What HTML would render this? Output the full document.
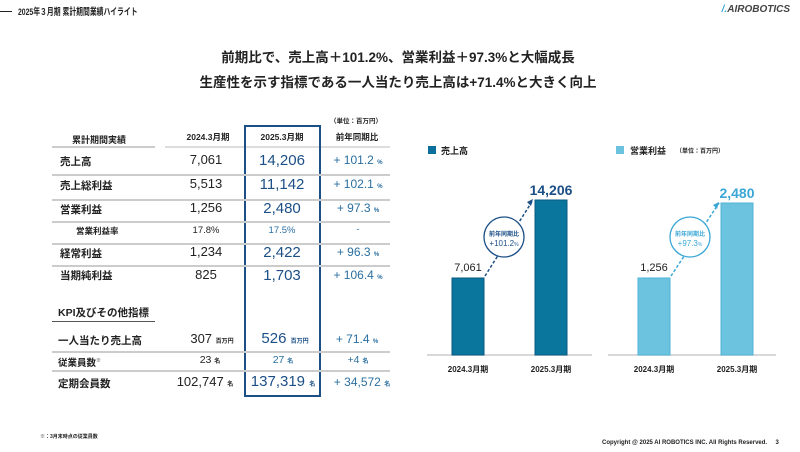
<!DOCTYPE html>
<html><head><meta charset="utf-8"><style>
*{margin:0;padding:0;box-sizing:border-box}
body{width:800px;height:452px;background:#fff;position:relative;overflow:hidden;font-family:"Liberation Sans","Noto Sans CJK JP",sans-serif;color:#222}
.a{position:absolute;white-space:nowrap}
.c{transform:translateX(-50%)}
.b{font-weight:bold}
.blue{color:#1b4f86}
.lb{color:#2a6fa0}
.hl{position:absolute;height:2px;background:#ccc}
.u{font-size:6px;font-weight:bold}
</style></head><body>
<div class="a" style="left:0;top:11px;width:12px;height:1px;background:#222"></div>
<div class="a b" style="left:18px;top:4px;font-size:9.5px;transform:scaleX(0.72);transform-origin:left top">2025年３月期 累計期間業績ハイライト</div>
<div class="a b" style="right:10px;top:4px;font-size:10px;font-style:italic;color:#444"><span style="color:#3ba7d6">/.</span>AIROBOTICS</div>
<div class="a c b" style="left:398px;top:46px;font-size:13.5px">前期比で、売上高＋101.2%、営業利益＋97.3%と大幅成長</div>
<div class="a c b" style="left:398px;top:71px;font-size:13.5px">生産性を示す指標である一人当たり売上高は+71.4%と大きく向上</div>

<!-- table -->
<div class="a b" style="left:330px;top:115px;font-size:6.5px">（単位：百万円）</div>
<div class="a b" style="left:72px;top:133px;font-size:9px">累計期間実績</div>
<div class="a c b" style="left:208px;top:131px;font-size:8.5px">2024.3月期</div>
<div class="a c b" style="left:282px;top:131px;font-size:8.5px">2025.3月期</div>
<div class="a c b" style="left:357px;top:131px;font-size:8.5px">前年同期比</div>
<div class="hl" style="left:52px;top:146px;width:103px"></div>
<div class="hl" style="left:165px;top:146px;width:225px;background:#ddd"></div>
<div class="a" style="left:244px;top:125px;width:77px;height:272px;border:2px solid #1b4f86"></div>

<div class="a b" style="left:60px;top:154px;font-size:10.5px">売上高</div>
<div class="a c" style="left:206px;top:152px;font-size:13px">7,061</div>
<div class="a c blue" style="left:282px;top:152px;font-size:15px">14,206</div>
<div class="a c lb" style="left:358px;top:153px;font-size:12px">+ 101.2 <span class="u">%</span></div>
<div class="hl" style="left:52px;top:174px;width:338px"></div>

<div class="a b" style="left:60px;top:178px;font-size:10.5px">売上総利益</div>
<div class="a c" style="left:206px;top:176px;font-size:13px">5,513</div>
<div class="a c blue" style="left:282px;top:176px;font-size:15px">11,142</div>
<div class="a c lb" style="left:358px;top:177px;font-size:12px">+ 102.1 <span class="u">%</span></div>
<div class="hl" style="left:52px;top:199px;width:338px"></div>

<div class="a b" style="left:60px;top:202px;font-size:10.5px">営業利益</div>
<div class="a c" style="left:206px;top:200px;font-size:13px">1,256</div>
<div class="a c blue" style="left:282px;top:200px;font-size:15px">2,480</div>
<div class="a c lb" style="left:358px;top:201px;font-size:12px">+ 97.3 <span class="u">%</span></div>
<div class="hl" style="left:52px;top:221px;width:338px"></div>

<div class="a b" style="left:76px;top:225px;font-size:8.5px">営業利益率</div>
<div class="a c" style="left:206px;top:225px;font-size:9.5px">17.8%</div>
<div class="a c lb" style="left:282px;top:225px;font-size:9.5px">17.5%</div>
<div class="a c lb" style="left:358px;top:224px;font-size:9.5px">-</div>
<div class="hl" style="left:52px;top:243px;width:338px"></div>

<div class="a b" style="left:60px;top:246px;font-size:10.5px">経常利益</div>
<div class="a c" style="left:206px;top:244px;font-size:13px">1,234</div>
<div class="a c blue" style="left:282px;top:244px;font-size:15px">2,422</div>
<div class="a c lb" style="left:358px;top:245px;font-size:12px">+ 96.3 <span class="u">%</span></div>
<div class="hl" style="left:52px;top:265px;width:338px"></div>

<div class="a b" style="left:60px;top:268px;font-size:10.5px">当期純利益</div>
<div class="a c" style="left:206px;top:267px;font-size:13px">825</div>
<div class="a c blue" style="left:282px;top:267px;font-size:15px">1,703</div>
<div class="a c lb" style="left:358px;top:268px;font-size:12px">+ 106.4 <span class="u">%</span></div>

<div class="a b" style="left:58px;top:305px;font-size:10.5px">KPI及びその他指標</div>
<div class="hl" style="left:52px;top:321px;width:103px;height:1px;background:#555"></div>

<div class="a b" style="left:58px;top:333px;font-size:10.5px">一人当たり売上高</div>
<div class="a c" style="left:212px;top:331px;font-size:13px">307 <span class="u">百万円</span></div>
<div class="a c blue" style="left:285px;top:330px;font-size:15px">526 <span class="u">百万円</span></div>
<div class="a c lb" style="left:357px;top:332px;font-size:12px">+ 71.4 <span class="u">%</span></div>
<div class="hl" style="left:52px;top:351px;width:338px"></div>

<div class="a b" style="left:58px;top:355px;font-size:9.5px">従業員数<sup style="font-size:5px">※</sup></div>
<div class="a c" style="left:210px;top:354px;font-size:10.5px">23 <span class="u">名</span></div>
<div class="a c lb" style="left:283px;top:354px;font-size:10.5px">27 <span class="u">名</span></div>
<div class="a c lb" style="left:358px;top:354px;font-size:10.5px">+4 <span class="u">名</span></div>
<div class="hl" style="left:52px;top:370px;width:338px"></div>

<div class="a b" style="left:58px;top:376px;font-size:10.5px">定期会員数</div>
<div class="a c" style="left:205px;top:374px;font-size:13px">102,747 <span class="u">名</span></div>
<div class="a c blue" style="left:283px;top:373px;font-size:15px">137,319 <span class="u">名</span></div>
<div class="a c lb" style="left:362px;top:375px;font-size:12px">+ 34,572 <span class="u">名</span></div>

<div class="a b" style="left:40px;top:433px;font-size:5px">※：3月末時点の従業員数</div>
<div class="a b" style="left:602px;top:440px;font-size:6px">Copyright @ 2025 AI ROBOTICS INC. All Rights Reserved.&nbsp;&nbsp;&nbsp;&nbsp;&nbsp;3</div>

<!-- charts -->
<svg class="a" style="left:0;top:0" width="800" height="452">
<rect x="428" y="146" width="8" height="8" fill="#0a6f9a"/>
<text x="441" y="154" font-size="9" font-weight="bold" fill="#222">売上高</text>
<rect x="616" y="146" width="8" height="8" fill="#6cc3df"/>
<text x="630" y="154" font-size="9" font-weight="bold" fill="#222">営業利益</text>
<text x="676" y="153" font-size="6" font-weight="bold" fill="#222">（単位：百万円）</text>
<line x1="427" y1="355" x2="592" y2="355" stroke="#ccc" stroke-width="1.5"/>
<line x1="608" y1="355" x2="776" y2="355" stroke="#ccc" stroke-width="1.5"/>
<rect x="452" y="278" width="32" height="77" fill="#0a769e" stroke="#0a5a80"/>
<rect x="535" y="200" width="32" height="155" fill="#0a769e" stroke="#0a5a80"/>
<rect x="638" y="278" width="32" height="77" fill="#6cc3df" stroke="#4fb3d6"/>
<rect x="721" y="203" width="32" height="152" fill="#6cc3df" stroke="#4fb3d6"/>
<text x="468" y="271" font-size="11" text-anchor="middle" fill="#222">7,061</text>
<text x="551" y="195" font-size="14" font-weight="bold" text-anchor="middle" fill="#1b4f86">14,206</text>
<text x="654" y="271" font-size="11" text-anchor="middle" fill="#222">1,256</text>
<text x="737" y="198" font-size="14" font-weight="bold" text-anchor="middle" fill="#3ba7d6">2,480</text>
<line x1="485" y1="276" x2="533" y2="200" stroke="#1b4f86" stroke-width="1.5" stroke-dasharray="3,2"/>
<polygon points="533,199 527,202 531,206" fill="#1b4f86"/>
<circle cx="504" cy="237" r="20" fill="#fff" stroke="#1b4f86" stroke-width="1.3"/>
<text x="504" y="236" font-size="6" font-weight="bold" text-anchor="middle" fill="#1b4f86">前年同期比</text>
<text x="504" y="246" font-size="8" text-anchor="middle" fill="#1b4f86">+101.2<tspan font-size="5">%</tspan></text>
<line x1="671" y1="276" x2="719" y2="203" stroke="#3ba7d6" stroke-width="1.5" stroke-dasharray="3,2"/>
<polygon points="719,202 713,205 717,209" fill="#3ba7d6"/>
<circle cx="690" cy="237" r="20" fill="#fff" stroke="#3ba7d6" stroke-width="1.3"/>
<text x="690" y="236" font-size="6" font-weight="bold" text-anchor="middle" fill="#3ba7d6">前年同期比</text>
<text x="690" y="246" font-size="8" text-anchor="middle" fill="#3ba7d6">+97.3<tspan font-size="5">%</tspan></text>
<g font-size="8" font-weight="bold" text-anchor="middle" fill="#222">
<text x="468" y="372">2024.3月期</text><text x="551" y="372">2025.3月期</text>
<text x="654" y="372">2024.3月期</text><text x="737" y="372">2025.3月期</text></g>
</svg>
</body></html>
